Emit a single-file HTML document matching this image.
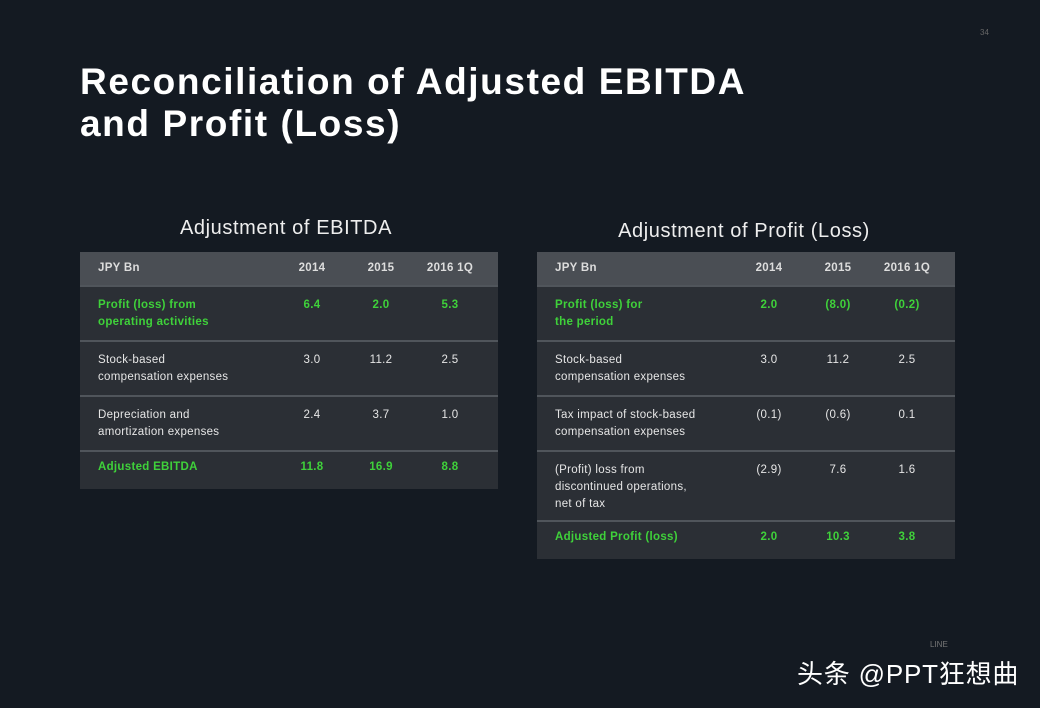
<!DOCTYPE html>
<html><head><meta charset="utf-8"><style>
body{margin:0;width:1040px;height:708px;background:#141a22;overflow:hidden;position:relative;font-family:"Liberation Sans","Noto Sans CJK SC",sans-serif;color:#e6e6e6}
.a{position:absolute}
.title{left:80px;top:61px;font-size:37px;font-weight:bold;color:#fff;line-height:42px;letter-spacing:1.6px;white-space:nowrap}
.sub{font-size:20px;color:#eee;text-align:center;width:420px;letter-spacing:0.6px}
.tbl{width:418px;background:#2b2f35}
.hdr{background:#4a4e54;height:33px;position:absolute;left:0;width:100%}
.row{position:absolute;left:0;width:100%;border-top:2px solid #50555b}
.cell{position:absolute;font-size:11.5px;line-height:17px;letter-spacing:0.3px}
.g{color:#3fd13a;font-weight:bold}
</style></head><body>
<div class="a" style="left:980px;top:28px;font-size:8px;color:#666">34</div>
<div class="a title">Reconciliation of Adjusted EBITDA<br>and Profit (Loss)</div>
<div class="a sub" style="left:76px;top:217px">Adjustment of EBITDA</div>
<div class="a sub" style="left:534px;top:220px">Adjustment of Profit (Loss)</div>

<div class="a tbl" style="left:80px;top:252px;height:237px" id="t1"></div>
<div class="a tbl" style="left:537px;top:252px;height:307px" id="t2"></div>

<div class="a" style="left:930px;top:640px;font-size:8px;color:#777">LINE</div>
<div class="a" style="left:797px;top:654px;font-size:26px;color:#fff;letter-spacing:0.8px;white-space:nowrap">头条 @PPT狂想曲</div>
<script>
const t1Rows=[["Profit (loss) from<br>operating activities","6.4","2.0","5.3",1,55],["Stock-based<br>compensation expenses","3.0","11.2","2.5",0,55],["Depreciation and<br>amortization expenses","2.4","3.7","1.0",0,55],["Adjusted EBITDA","11.8","16.9","8.8",1,37]];
const t2Rows=[["Profit (loss) for<br>the period","2.0","(8.0)","(0.2)",1,55],["Stock-based<br>compensation expenses","3.0","11.2","2.5",0,55],["Tax impact of stock-based<br>compensation expenses","(0.1)","(0.6)","0.1",0,55],["(Profit) loss from<br>discontinued operations,<br>net of tax","(2.9)","7.6","1.6",0,70],["Adjusted Profit (loss)","2.0","10.3","3.8",1,37]];
const cols=["JPY Bn","2014","2015","2016 1Q"];
function build(id,rows,name){
 const t=document.getElementById(id);
 const cx=[232,301,370];
 let h=document.createElement('div');h.className='hdr';
 
 
 t.appendChild(h);
 cols.forEach((c,i)=>{const d=document.createElement('div');d.className='cell';
  d.style.top='8px';d.style.fontWeight='bold';d.style.color='#ddd';
  if(i==0){d.style.left='18px';}else{d.style.left=(cx[i-1]-30)+'px';d.style.width='60px';d.style.textAlign='center';}
  d.textContent=c;
  
  
  h.appendChild(d);});
 let y=33;
 rows.forEach((r,ri)=>{const row=document.createElement('div');row.className='row';
  row.style.top=y+'px';row.style.height=(r[5]-2)+'px';
  
  
  for(let i=0;i<4;i++){const d=document.createElement('div');d.className='cell'+(r[4]?' g':'');
   d.style.top=(r[5]>40?10:7)+'px';
   if(i==0){d.style.left='18px';}else{d.style.left=(cx[i-1]-30)+'px';d.style.width='60px';d.style.textAlign='center';}
   d.innerHTML=r[i];
   
   
   row.appendChild(d);}
  t.appendChild(row);y+=r[5];});
}
build('t1',t1Rows,'ebitda');build('t2',t2Rows,'profit');
</script>
</body></html>
